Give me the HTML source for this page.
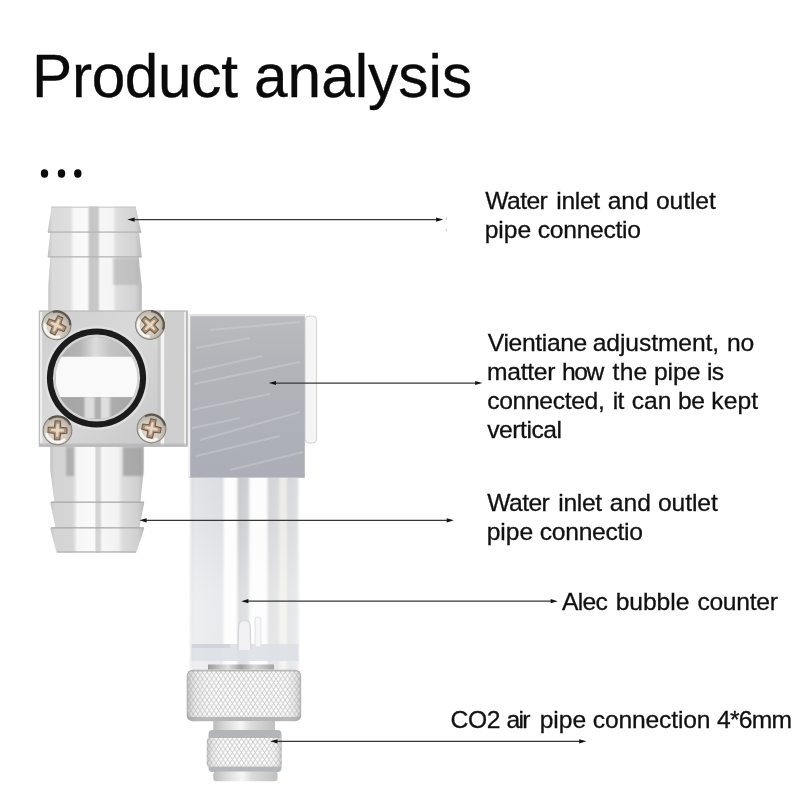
<!DOCTYPE html>
<html><head><meta charset="utf-8">
<style>
html,body{margin:0;padding:0;background:#fff;}
body{width:800px;height:800px;position:relative;overflow:hidden;font-family:"Liberation Sans",sans-serif;color:#111;}
.t{position:absolute;white-space:nowrap;line-height:1;}
.tt{top:46.2px;font-size:60.3px;color:#0a0a0a;-webkit-text-stroke:0.35px #0a0a0a;transform:scaleY(1.02);transform-origin:0 86%;}
.lb{font-size:24.65px;line-height:29.2px;color:#1a1a1a;}
#labels{position:absolute;left:0;top:0;width:800px;height:800px;will-change:transform;opacity:0.999;}
.w{position:absolute;white-space:nowrap;line-height:1;color:#111;-webkit-text-stroke:0.3px #111;}
svg{position:absolute;left:0;top:0;}
</style></head><body>
<svg id="art" width="800" height="800" viewBox="0 0 800 800">
<defs>
<linearGradient id="pipe" x1="0" x2="1" y1="0" y2="0">
<stop offset="0" stop-color="#c0c0c0"/><stop offset="0.05" stop-color="#dadada"/><stop offset="0.24" stop-color="#dedede"/>
<stop offset="0.28" stop-color="#f8f8f8"/><stop offset="0.42" stop-color="#fafafa"/><stop offset="0.45" stop-color="#c6c6c6"/>
<stop offset="0.53" stop-color="#c9c9c9"/><stop offset="0.56" stop-color="#f6f6f6"/><stop offset="0.69" stop-color="#f4f4f4"/>
<stop offset="0.73" stop-color="#dedede"/><stop offset="0.93" stop-color="#d2d2d2"/><stop offset="1" stop-color="#b8b8b8"/>
</linearGradient>

<linearGradient id="pipe2" x1="0" x2="1" y1="0" y2="0">
<stop offset="0" stop-color="#c4c4c4"/><stop offset="0.05" stop-color="#d4d4d4"/><stop offset="0.24" stop-color="#d6d6d6"/>
<stop offset="0.29" stop-color="#f6f6f6"/><stop offset="0.47" stop-color="#fafafa"/><stop offset="0.49" stop-color="#d4d4d4"/>
<stop offset="0.53" stop-color="#d6d6d6"/><stop offset="0.55" stop-color="#f6f6f6"/><stop offset="0.72" stop-color="#f2f2f2"/>
<stop offset="0.77" stop-color="#dcdcdc"/><stop offset="0.93" stop-color="#d0d0d0"/><stop offset="1" stop-color="#bababa"/>
</linearGradient>
<linearGradient id="blk" x1="0" x2="0" y1="0" y2="1"><stop offset="0" stop-color="#b9bbbe"/><stop offset="0.3" stop-color="#b2b4b9"/><stop offset="1" stop-color="#abaeb6"/></linearGradient>
<linearGradient id="side" x1="0" x2="1" y1="0" y2="0"><stop offset="0" stop-color="#e8e8e8"/><stop offset="0.15" stop-color="#d2d2d2"/><stop offset="0.8" stop-color="#c8c8c8"/><stop offset="1" stop-color="#b4b4b4"/></linearGradient>
<linearGradient id="wtop" x1="0" x2="1" y1="0" y2="0"><stop offset="0" stop-color="#a8a8a8"/><stop offset="0.3" stop-color="#b4b4b4"/><stop offset="0.45" stop-color="#dcdcdc"/><stop offset="0.6" stop-color="#c4c4c4"/><stop offset="1" stop-color="#b0b0b0"/></linearGradient>
<linearGradient id="wbot" x1="0" x2="1" y1="0" y2="0"><stop offset="0" stop-color="#a2a2a2"/><stop offset="0.33" stop-color="#a8a8a8"/><stop offset="0.36" stop-color="#dcdcdc"/><stop offset="0.43" stop-color="#dcdcdc"/><stop offset="0.46" stop-color="#b0b0b0"/><stop offset="0.5" stop-color="#b0b0b0"/><stop offset="0.52" stop-color="#dedede"/><stop offset="0.58" stop-color="#dedede"/><stop offset="0.62" stop-color="#acacac"/><stop offset="1" stop-color="#a2a2a2"/></linearGradient>
<radialGradient id="scr" cx="0.45" cy="0.62" r="0.7"><stop offset="0" stop-color="#e2dcd2"/><stop offset="0.55" stop-color="#cfc8bc"/><stop offset="0.85" stop-color="#b0a99d"/><stop offset="1" stop-color="#8e877c"/></radialGradient>
<linearGradient id="glass" x1="0" x2="1" y1="0" y2="0">
<stop offset="0" stop-color="#d6d6d8"/><stop offset="0.03" stop-color="#e2e3e6"/><stop offset="0.3" stop-color="#dcdde1"/><stop offset="0.315" stop-color="#fdfdfd"/><stop offset="0.43" stop-color="#fdfdfd"/><stop offset="0.44" stop-color="#c6c8cc"/><stop offset="0.54" stop-color="#cfd1d5"/><stop offset="0.55" stop-color="#fcfcfc"/><stop offset="0.71" stop-color="#fcfcfc"/><stop offset="0.72" stop-color="#d2d3d7"/><stop offset="0.82" stop-color="#d8d9dc"/><stop offset="0.83" stop-color="#ecebe6"/><stop offset="0.89" stop-color="#ecebe6"/><stop offset="0.9" stop-color="#d6d7db"/><stop offset="1" stop-color="#dcdde0"/>
</linearGradient>
<linearGradient id="neck" x1="0" x2="1" y1="0" y2="0"><stop offset="0" stop-color="#bcbcbc"/><stop offset="0.2" stop-color="#dadada"/><stop offset="0.45" stop-color="#f6f6f6"/><stop offset="0.6" stop-color="#dcdcdc"/><stop offset="1" stop-color="#c0c0c0"/></linearGradient>

<linearGradient id="flg" x1="0" x2="1" y1="0" y2="1"><stop offset="0" stop-color="#cdcdcf"/><stop offset="0.45" stop-color="#d9d9d9"/><stop offset="1" stop-color="#c8c8ca"/></linearGradient>
<linearGradient id="ring" x1="0" x2="1" y1="0" y2="0"><stop offset="0" stop-color="#9a9a9a"/><stop offset="0.3" stop-color="#e0e0e0"/><stop offset="0.5" stop-color="#a0a0a0"/><stop offset="0.7" stop-color="#d8d8d8"/><stop offset="1" stop-color="#a4a4a4"/></linearGradient>
<pattern id="knurl" width="4.6" height="7" patternUnits="userSpaceOnUse"><rect width="4.6" height="7" fill="#fbfbfb"/><path d="M0 0 L4.6 7 M4.6 0 L0 7" stroke="#bcbcbc" stroke-width="0.78"/></pattern>
<linearGradient id="nutshade" x1="0" x2="1" y1="0" y2="0"><stop offset="0" stop-color="#909090" stop-opacity="0.5"/><stop offset="0.08" stop-color="#b0b0b0" stop-opacity="0.2"/><stop offset="0.3" stop-color="#fff" stop-opacity="0"/><stop offset="0.8" stop-color="#fff" stop-opacity="0"/><stop offset="0.94" stop-color="#b0b0b0" stop-opacity="0.2"/><stop offset="1" stop-color="#909090" stop-opacity="0.5"/></linearGradient>
<linearGradient id="gfade" x1="0" x2="0" y1="0" y2="1"><stop offset="0" stop-color="#fff" stop-opacity="0"/><stop offset="0.25" stop-color="#fff" stop-opacity="0.1"/><stop offset="0.6" stop-color="#fff" stop-opacity="0.38"/><stop offset="1" stop-color="#fff" stop-opacity="0.42"/></linearGradient>
<filter id="b1" x="-20%" y="-20%" width="140%" height="140%"><feGaussianBlur stdDeviation="1.2"/></filter>
<filter id="b0" x="-5%" y="-5%" width="110%" height="110%"><feGaussianBlur stdDeviation="0.45"/></filter>
<filter id="bh" x="-2%" y="0" width="104%" height="100%"><feGaussianBlur stdDeviation="0.8 0"/></filter>
</defs>
<!-- PRODUCT -->
<g id="product" filter="url(#b0)">
<!-- top pipe -->
<path d="M51.7 206.6 L135.6 206.6 L141.3 232.3 L139 232.6 L141.8 257 L138.6 257.5 L141.8 285 L141.8 311 L48.3 311 L48.3 285 L50.3 257.5 L47.6 257 L50.3 232.6 L47.6 232.3 Z" fill="url(#pipe)"/>
<rect x="48" y="231.3" width="93.5" height="1.6" fill="#b4b4b4" opacity="0.8"/>
<rect x="48" y="256" width="93.5" height="1.6" fill="#b4b4b4" opacity="0.8"/>
<rect x="51" y="206.6" width="85" height="1.4" fill="#c8c8c8" opacity="0.7"/>
<rect x="113" y="258" width="26" height="27" fill="#a8a8a8" opacity="0.45" filter="url(#b1)"/>
<!-- bottom pipe -->
<path d="M50.2 446 L143.7 446 L143.7 470 L140.5 502 L144.3 502.6 L139.4 527.6 L144.3 528.2 L136.2 552.8 L56.6 552.8 L50.2 528.2 L55.5 527.6 L50.2 502.6 L54.4 502 L50.2 470 Z" fill="url(#pipe2)"/>
<rect x="66" y="447" width="8" height="29" fill="#a0a0a0" opacity="0.7" filter="url(#b1)"/>
<rect x="123" y="447" width="20" height="29" fill="#989898" opacity="0.7" filter="url(#b1)"/>
<rect x="51" y="501.4" width="93" height="1.6" fill="#a8a8a8" opacity="0.8"/>
<rect x="51" y="527" width="93" height="1.6" fill="#a8a8a8" opacity="0.8"/>
<rect x="57" y="551" width="79" height="1.8" fill="#b8b8b8" opacity="0.8"/>
<!-- flange -->
<rect x="38.9" y="310.6" width="123" height="136" fill="url(#flg)"/>
<rect x="157.6" y="311" width="3" height="135" fill="#c2c2c2" opacity="0.8"/>
<rect x="160.8" y="310.6" width="26.6" height="136" fill="#cfcfcf"/>
<rect x="160.8" y="311" width="3.4" height="135" fill="#f4f4f4"/>
<rect x="184.2" y="311" width="2" height="135" fill="#f0f0f0"/>
<rect x="186.3" y="311" width="1.2" height="135" fill="#9c9c9c"/>
<rect x="39.4" y="311.1" width="147.6" height="135" fill="none" stroke="#bdbdbd" stroke-width="1.2"/>
<rect x="40" y="443.5" width="146" height="3" fill="#b0b0b0" opacity="0.6"/>
<rect x="40" y="312" width="2.2" height="131" fill="#f2f2f2" opacity="0.8"/>
<!-- window -->
<circle cx="96.5" cy="378" r="52" fill="#e6e6e6" opacity="0.7"/>
<circle cx="96.5" cy="378" r="49.6" fill="#1e1e1e"/>
<circle cx="96.5" cy="378" r="43.6" fill="#d4d4d4"/>
<circle cx="96.5" cy="378" r="41" fill="#a6a6a6"/>
<clipPath id="win"><circle cx="96.5" cy="378" r="41"/></clipPath>
<g clip-path="url(#win)">
<rect x="50" y="330" width="100" height="28" fill="url(#wtop)"/>
<rect x="55.7" y="356.7" width="83.6" height="40.6" rx="3" fill="#f9f9f9"/>
<rect x="50" y="397.3" width="100" height="25" fill="url(#wbot)"/>
</g>
<!-- screws -->
<g id="screws"><g transform="translate(56.5 325.3) rotate(25)">
<circle r="14.4" fill="url(#scr)" stroke="#857f76" stroke-width="1"/>
<path d="M-9 -10.5 A13.8 13.8 0 0 1 12.5 -5.8" fill="none" stroke="#4e463c" stroke-width="2.2" opacity="0.8"/>
<path d="M-11 3 A11.2 11.2 0 0 0 8 8.4" fill="none" stroke="#f6f6f4" stroke-width="3" opacity="0.95"/>
<path d="M-2.6 -9.4 L2.6 -9.4 L3.2 -3.2 L9.4 -2.6 L9.4 2.6 L3.2 3.2 L2.6 9.4 L-2.6 9.4 L-3.2 3.2 L-9.4 2.6 L-9.4 -2.6 L-3.2 -3.2 Z" fill="#b0957a" stroke="#6e5d4a" stroke-width="1.1"/>
<path d="M-1 -6.5 L1 -6.5 L1.5 -1.5 L6.5 -1 L6.5 1 L1.5 1.5 L1 6.5 L-1 6.5 L-1.5 1.5 L-6.5 1 L-6.5 -1 L-1.5 -1.5 Z" fill="#e6d6c0"/>
</g><g transform="translate(150 325) rotate(45)">
<circle r="14.4" fill="url(#scr)" stroke="#857f76" stroke-width="1"/>
<path d="M-9 -10.5 A13.8 13.8 0 0 1 12.5 -5.8" fill="none" stroke="#4e463c" stroke-width="2.2" opacity="0.8"/>
<path d="M-11 3 A11.2 11.2 0 0 0 8 8.4" fill="none" stroke="#f6f6f4" stroke-width="3" opacity="0.95"/>
<path d="M-2.6 -9.4 L2.6 -9.4 L3.2 -3.2 L9.4 -2.6 L9.4 2.6 L3.2 3.2 L2.6 9.4 L-2.6 9.4 L-3.2 3.2 L-9.4 2.6 L-9.4 -2.6 L-3.2 -3.2 Z" fill="#b0957a" stroke="#6e5d4a" stroke-width="1.1"/>
<path d="M-1 -6.5 L1 -6.5 L1.5 -1.5 L6.5 -1 L6.5 1 L1.5 1.5 L1 6.5 L-1 6.5 L-1.5 1.5 L-6.5 1 L-6.5 -1 L-1.5 -1.5 Z" fill="#e6d6c0"/>
</g><g transform="translate(57.5 430.3) rotate(2)">
<circle r="14.4" fill="url(#scr)" stroke="#857f76" stroke-width="1"/>
<path d="M-9 -10.5 A13.8 13.8 0 0 1 12.5 -5.8" fill="none" stroke="#4e463c" stroke-width="2.2" opacity="0.8"/>
<path d="M-11 3 A11.2 11.2 0 0 0 8 8.4" fill="none" stroke="#f6f6f4" stroke-width="3" opacity="0.95"/>
<path d="M-2.6 -9.4 L2.6 -9.4 L3.2 -3.2 L9.4 -2.6 L9.4 2.6 L3.2 3.2 L2.6 9.4 L-2.6 9.4 L-3.2 3.2 L-9.4 2.6 L-9.4 -2.6 L-3.2 -3.2 Z" fill="#b0957a" stroke="#6e5d4a" stroke-width="1.1"/>
<path d="M-1 -6.5 L1 -6.5 L1.5 -1.5 L6.5 -1 L6.5 1 L1.5 1.5 L1 6.5 L-1 6.5 L-1.5 1.5 L-6.5 1 L-6.5 -1 L-1.5 -1.5 Z" fill="#e6d6c0"/>
</g><g transform="translate(151.5 428.5) rotate(12)">
<circle r="14.4" fill="url(#scr)" stroke="#857f76" stroke-width="1"/>
<path d="M-9 -10.5 A13.8 13.8 0 0 1 12.5 -5.8" fill="none" stroke="#4e463c" stroke-width="2.2" opacity="0.8"/>
<path d="M-11 3 A11.2 11.2 0 0 0 8 8.4" fill="none" stroke="#f6f6f4" stroke-width="3" opacity="0.95"/>
<path d="M-2.6 -9.4 L2.6 -9.4 L3.2 -3.2 L9.4 -2.6 L9.4 2.6 L3.2 3.2 L2.6 9.4 L-2.6 9.4 L-3.2 3.2 L-9.4 2.6 L-9.4 -2.6 L-3.2 -3.2 Z" fill="#b0957a" stroke="#6e5d4a" stroke-width="1.1"/>
<path d="M-1 -6.5 L1 -6.5 L1.5 -1.5 L6.5 -1 L6.5 1 L1.5 1.5 L1 6.5 L-1 6.5 L-1.5 1.5 L-6.5 1 L-6.5 -1 L-1.5 -1.5 Z" fill="#e6d6c0"/>
</g></g>
<!-- block -->
<rect x="305" y="316" width="11.6" height="127" rx="4" fill="#f5f5f5" stroke="#d2d2d2" stroke-width="1"/>
<rect x="188.4" y="314.6" width="116.4" height="163.2" fill="url(#blk)"/>
<g stroke="#d8dadc" stroke-width="2" opacity="0.36" fill="none" filter="url(#b0)">
<path d="M192 372 L262 356"/><path d="M194 384 L300 362"/><path d="M196 348 L250 338"/><path d="M200 440 L300 412"/><path d="M196 456 L280 436"/><path d="M210 330 L300 322"/><path d="M192 410 L270 394"/><path d="M230 470 L303 452"/><path d="M192 428 L240 418"/>
</g>
<rect x="188" y="314.5" width="2.2" height="163" fill="#f2f2f2"/>
<rect x="190" y="314.2" width="115" height="2" fill="#e4e4e4"/>
<!-- glass -->
<rect x="190.6" y="477.8" width="107.6" height="192" fill="url(#glass)" filter="url(#bh)"/>
<rect x="190.6" y="477.8" width="107.6" height="192" fill="url(#gfade)"/>
<rect x="191.4" y="644" width="107" height="17" fill="#dde0e6" opacity="0.9"/>
<rect x="192" y="644" width="38" height="4" fill="#cdd1d8" opacity="0.8"/>
<path d="M238 650 L238.6 626 Q239 620.5 244.4 620.5 Q249.8 620.5 250.2 626 L250.8 650" fill="#f2f2f4" stroke="#d2d4d9" stroke-width="1.2"/>
<rect x="255" y="617" width="6" height="30" rx="2" fill="#f6f6f8" stroke="#dcdde2" stroke-width="0.8"/>
<rect x="208" y="664.5" width="66" height="5" fill="url(#ring)"/>
<!-- nut -->
<rect x="186.8" y="669.8" width="114.3" height="51.5" rx="6" fill="#b6b6b6"/>
<rect x="187.4" y="671.6" width="113.1" height="45.4" rx="4" fill="url(#knurl)"/>
<rect x="186.8" y="669.8" width="114.3" height="51.5" rx="6" fill="url(#nutshade)"/>
<!-- neck -->
<rect x="213.3" y="721" width="61.7" height="10" fill="url(#neck)"/>
<rect x="208.5" y="730" width="73" height="42" rx="4" fill="#b2b6b9"/>
<rect x="206.8" y="738" width="74.8" height="28.5" rx="2" fill="url(#knurl)"/>
<rect x="206.8" y="738" width="74.8" height="28.5" rx="2" fill="url(#nutshade)"/>
<rect x="213.3" y="771.5" width="64.2" height="9.8" rx="3" fill="url(#neck)"/>
</g>
<g id="dots" fill="#0a0a0a"><ellipse cx="44.5" cy="173.5" rx="3.7" ry="4.2"/><ellipse cx="61.5" cy="173.5" rx="3.7" ry="4.2"/><ellipse cx="77.8" cy="173.5" rx="3.7" ry="4.2"/></g>
<g fill="#9a9a9a" opacity="0.55"><rect x="445.8" y="217.4" width="1" height="2.6"/><rect x="445.8" y="228.8" width="1" height="2.6"/></g>
<!-- ARROWS -->
<g id="arrows" stroke="#363636" stroke-width="1.25" fill="#141414"><line x1="132.4" y1="219.6" x2="438.3" y2="219.6"/><path d="M127.4 219.6 L134.6 217.5 L134.6 221.7 Z" stroke="none"/><path d="M443.3 219.6 L436.1 217.5 L436.1 221.7 Z" stroke="none"/><line x1="273.8" y1="383.0" x2="477.4" y2="383.0"/><path d="M268.8 383.0 L276.0 380.9 L276.0 385.1 Z" stroke="none"/><path d="M482.4 383.0 L475.2 380.9 L475.2 385.1 Z" stroke="none"/><line x1="144.4" y1="520.3" x2="448.9" y2="520.3"/><path d="M139.4 520.3 L146.6 518.1999999999999 L146.6 522.4 Z" stroke="none"/><path d="M453.9 520.3 L446.7 518.1999999999999 L446.7 522.4 Z" stroke="none"/><line x1="246.2" y1="601.2" x2="552.8" y2="601.2"/><path d="M241.2 601.2 L248.39999999999998 599.1 L248.39999999999998 603.3000000000001 Z" stroke="none"/><path d="M557.8 601.2 L550.5999999999999 599.1 L550.5999999999999 603.3000000000001 Z" stroke="none"/><line x1="275.3" y1="741.3" x2="581.4" y2="741.3"/><path d="M270.3 741.3 L277.5 739.1999999999999 L277.5 743.4 Z" stroke="none"/><path d="M586.4 741.3 L579.1999999999999 739.1999999999999 L579.1999999999999 743.4 Z" stroke="none"/></g>
</svg>
<div class="t tt" id="title" style="left:32px;letter-spacing:-0.32px">Product</div><div class="t tt" id="title2" style="left:254px;letter-spacing:0.03px">analysis</div>

<!--LABELS-->
<div id="labels">
<span class="w" style="left:485.25px;top:189.43px;font-size:24.65px;letter-spacing:-0.562px">Water</span>
<span class="w" style="left:556.25px;top:189.43px;font-size:24.65px;letter-spacing:-0.312px">inlet</span>
<span class="w" style="left:607.75px;top:189.43px;font-size:24.65px;letter-spacing:-0.125px">and</span>
<span class="w" style="left:656.00px;top:189.43px;font-size:24.65px;letter-spacing:-0.100px">outlet</span>
<span class="w" style="left:484.75px;top:218.43px;font-size:24.65px;letter-spacing:-0.083px">pipe</span>
<span class="w" style="left:537.75px;top:218.43px;font-size:24.65px;letter-spacing:-0.281px">connectio</span>
<span class="w" style="left:487.75px;top:330.73px;font-size:24.65px;letter-spacing:-0.344px">Vientiane</span>
<span class="w" style="left:592.75px;top:330.73px;font-size:24.65px;letter-spacing:-0.100px">adjustment,</span>
<span class="w" style="left:727.00px;top:330.73px;font-size:24.65px;letter-spacing:-0.250px">no</span>
<span class="w" style="left:487.00px;top:359.73px;font-size:24.65px;letter-spacing:-0.300px">matter</span>
<span class="w" style="left:562.00px;top:359.73px;font-size:24.65px;letter-spacing:-1.500px">how</span>
<span class="w" style="left:612.60px;top:359.73px;font-size:24.65px;letter-spacing:0.200px">the</span>
<span class="w" style="left:654.00px;top:359.73px;font-size:24.65px;letter-spacing:-0.083px">pipe</span>
<span class="w" style="left:707.00px;top:359.73px;font-size:24.65px;letter-spacing:-0.750px">is</span>
<span class="w" style="left:487.25px;top:388.73px;font-size:24.65px;letter-spacing:-0.333px">connected,</span>
<span class="w" style="left:612.65px;top:388.73px;font-size:24.65px;letter-spacing:-0.500px">it</span>
<span class="w" style="left:631.75px;top:388.73px;font-size:24.65px;letter-spacing:0.000px">can</span>
<span class="w" style="left:678.00px;top:388.73px;font-size:24.65px;letter-spacing:-0.500px">be</span>
<span class="w" style="left:711.25px;top:388.73px;font-size:24.65px;letter-spacing:0.083px">kept</span>
<span class="w" style="left:487.25px;top:417.93px;font-size:24.65px;letter-spacing:-0.464px">vertical</span>
<span class="w" style="left:487.25px;top:491.43px;font-size:24.65px;letter-spacing:-0.562px">Water</span>
<span class="w" style="left:558.25px;top:491.43px;font-size:24.65px;letter-spacing:-0.312px">inlet</span>
<span class="w" style="left:609.75px;top:491.43px;font-size:24.65px;letter-spacing:0.000px">and</span>
<span class="w" style="left:658.00px;top:491.43px;font-size:24.65px;letter-spacing:-0.100px">outlet</span>
<span class="w" style="left:486.75px;top:520.43px;font-size:24.65px;letter-spacing:-0.083px">pipe</span>
<span class="w" style="left:539.75px;top:520.43px;font-size:24.65px;letter-spacing:-0.281px">connectio</span>
<span class="w" style="left:561.90px;top:589.53px;font-size:24.65px;letter-spacing:-0.650px">Alec</span>
<span class="w" style="left:615.70px;top:589.53px;font-size:24.65px;letter-spacing:-0.060px">bubble</span>
<span class="w" style="left:697.40px;top:589.53px;font-size:24.65px;letter-spacing:-0.275px">counter</span>
<span class="w" style="left:450.50px;top:708.33px;font-size:24.65px;letter-spacing:-0.375px">CO2</span>
<span class="w" style="left:506.50px;top:708.33px;font-size:24.65px;letter-spacing:-1.750px">air</span>
<span class="w" style="left:539.75px;top:708.33px;font-size:24.65px;letter-spacing:-0.083px">pipe</span>
<span class="w" style="left:592.75px;top:708.33px;font-size:24.65px;letter-spacing:-0.167px">connection</span>
<span class="w" style="left:717.00px;top:708.33px;font-size:24.65px;letter-spacing:-0.750px">4*6mm</span>
</div>
<!--/LABELS-->
</body></html>
